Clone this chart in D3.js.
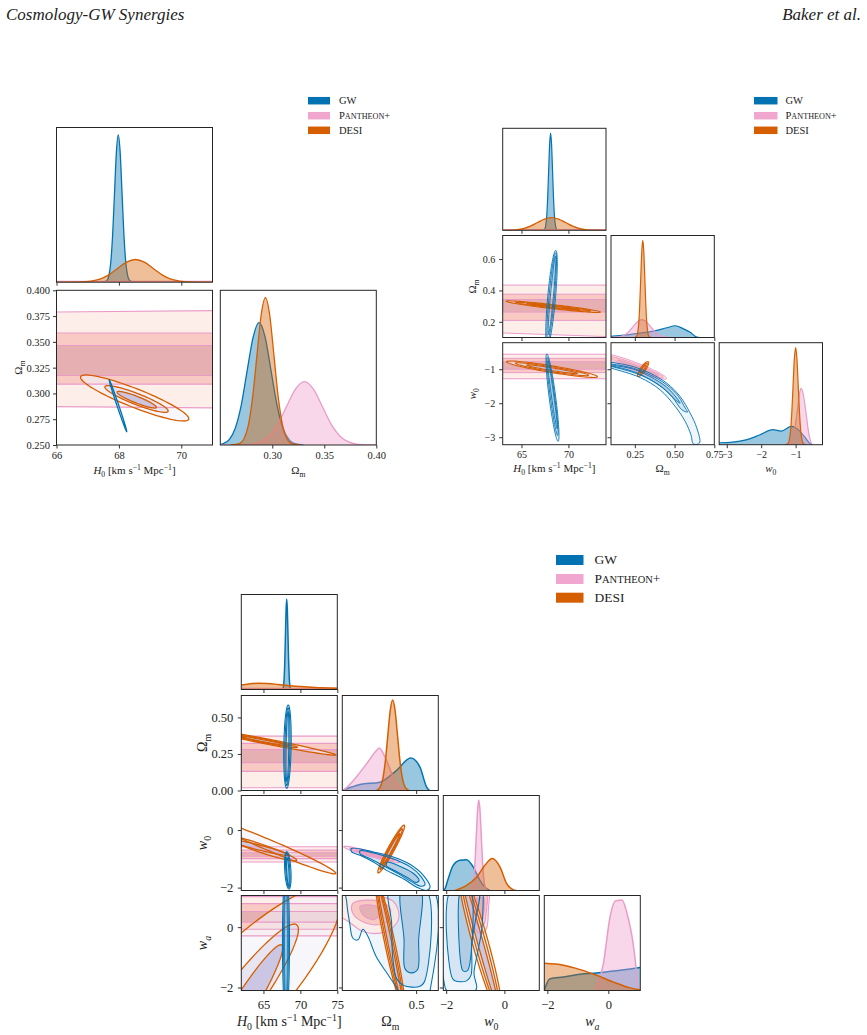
<!DOCTYPE html>
<html>
<head>
<meta charset="utf-8">
<script src="https://cdn.jsdelivr.net/npm/d3@7"></script>
<style>
  body { margin: 0; background: #fff; }
  svg text { font-family: "Liberation Serif", "Times New Roman", serif; fill: #222; }
</style>
</head>
<body>
<svg id="fig" width="867" height="1035"></svg>
<script>
// ---------- colours
var GW = '#0173b2', PAN = '#ea9cc9', DESI = '#d55e00';
var gwFill = ['#eaf2fa', '#cfe1f1', '#a9c6e0'];
var panFill = ['#fde8e1', '#f7bdb6', '#dfa7ae'];
var desiFill = ['#f2f0f7', '#dcdaec', '#b9b0d8'];

// ================= top-left corner (H0, Om) =================
var tlDomains = [[66, 71], [0.25, 0.40]];
var tlTicksX = [[66, 68, 70], [0.30, 0.35, 0.40]];
var tlTicksY = [null, [0.25, 0.275, 0.30, 0.325, 0.35, 0.375, 0.40]];

// 1D posteriors: [x, relative density]
var tl_H0_gw = [[67.5,0],[67.62,0.011],[67.68,0.044],[67.74,0.135],[67.80,0.325],[67.86,0.607],[67.92,0.883],[67.98,1],[68.04,0.883],[68.10,0.607],[68.16,0.325],[68.22,0.135],[68.28,0.044],[68.34,0.011],[68.46,0]];
var tl_H0_pan = [[66,0.006],[71,0.006]];
var tl_H0_desi = [[66,0],[66.82,0.0017],[67.105,0.0068],[67.39,0.0208],[67.675,0.05],[67.96,0.0934],[68.245,0.1359],[68.53,0.154],[68.815,0.1359],[69.1,0.0934],[69.385,0.05],[69.67,0.0208],[69.955,0.0068],[70.24,0.0017],[71,0]];
var tl_Om_gw = [[0.245,0],[0.2528,0.0092],[0.2586,0.0364],[0.2643,0.1123],[0.2701,0.2695],[0.2758,0.5034],[0.2816,0.7325],[0.2873,0.83],[0.2931,0.7325],[0.2988,0.5034],[0.3046,0.2695],[0.3103,0.1123],[0.3161,0.0364],[0.3218,0.0092],[0.33,0]];
var tl_Om_pan = [[0.25,0],[0.2793,0.0048],[0.2879,0.0189],[0.2965,0.0582],[0.3051,0.1396],[0.3137,0.2608],[0.3223,0.3795],[0.3309,0.43],[0.3395,0.3795],[0.3481,0.2608],[0.3567,0.1396],[0.3653,0.0582],[0.3739,0.0189],[0.3825,0.0048],[0.40,0]];
var tl_Om_desi = [[0.26,0],[0.2688,0.011],[0.2729,0.0439],[0.277,0.1353],[0.2811,0.3247],[0.2852,0.6065],[0.2893,0.8825],[0.2934,1],[0.2975,0.8825],[0.3016,0.6065],[0.3057,0.3247],[0.3098,0.1353],[0.3139,0.0439],[0.318,0.011],[0.327,0]];

// 2D contours, outer -> inner. ellipse = [cx, cy, ux, uy, vx, vy], otherwise a list of points
var tl_H0Om_pan = [
  [[65,0.2874],[72,0.2858],[72,0.3805],[65,0.3787]],
  [[65,0.309],[72,0.309],[72,0.3586],[65,0.3586]],
  [[65,0.3174],[72,0.3174],[72,0.3465],[65,0.3465]]
];
var tl_H0Om_desi = [[68.505,0.2956,1.735,-0.0201,0,0.0097],[68.565,0.2946,1.015,-0.0116,0,0.0057],[68.57,0.2939,0.63,-0.0073,0,0.0034]];
var tl_H0Om_gw = [[67.97,0.2881,0.28,-0.0251,0.03,0]];

// ================= top-right corner (H0, Om, w0) =================
var trDomains = [[63, 74], [0.1, 0.75], [-3.22, -0.22]];
var trTicksX = [[65, 70], [0.25, 0.5, 0.75], [-3, -2, -1]];
var trTicksY = [null, [0.2, 0.4, 0.6], [-3, -2, -1]];

var tr_H0_gw = [[67.3,0],[67.47,0.011],[67.575,0.044],[67.68,0.135],[67.785,0.325],[67.89,0.607],[67.995,0.883],[68.1,1],[68.205,0.883],[68.31,0.607],[68.415,0.325],[68.52,0.135],[68.625,0.044],[68.73,0.011],[68.9,0]];
var tr_H0_pan = [[63,0.006],[74,0.006]];
var tr_H0_desi = [[63,0.0005],[63.7,0.0015],[64.45,0.0058],[65.2,0.0177],[65.95,0.0425],[66.7,0.0795],[67.45,0.1156],[68.2,0.131],[68.95,0.1156],[69.7,0.0795],[70.45,0.0425],[71.2,0.0177],[71.95,0.0058],[72.7,0.0015],[74,0.0002]];
var tr_Om_gw = [[0.1,0.011],[0.199,0.027],[0.283,0.045],[0.367,0.065],[0.451,0.10],[0.504,0.121],[0.556,0.089],[0.598,0.053],[0.64,0.004],[0.66,0]];
var tr_Om_pan = [[0.1,0.002],[0.129,0.004],[0.1565,0.0081],[0.184,0.0249],[0.2115,0.0597],[0.239,0.1116],[0.2665,0.1624],[0.294,0.184],[0.3215,0.1624],[0.349,0.1116],[0.3765,0.0597],[0.404,0.0249],[0.4315,0.0081],[0.459,0.002],[0.5,0]];
var tr_Om_desi = [[0.25,0],[0.261,0.011],[0.2675,0.044],[0.274,0.135],[0.2805,0.325],[0.287,0.607],[0.2935,0.883],[0.30,1],[0.3065,0.883],[0.313,0.607],[0.3195,0.325],[0.326,0.135],[0.3325,0.044],[0.339,0.011],[0.35,0]];
var tr_w0_gw = [[-3.22,0.02],[-2.83,0.027],[-2.44,0.05],[-2.05,0.10],[-1.66,0.155],[-1.42,0.14],[-1.12,0.188],[-0.88,0.14],[-0.64,0.035],[-0.55,0]];
var tr_w0_pan = [[-1.3,0],[-1.15,0.03],[-1.05,0.12],[-0.95,0.35],[-0.88,0.54],[-0.84,0.58],[-0.78,0.52],[-0.70,0.33],[-0.62,0.12],[-0.55,0.02],[-0.5,0]];
var tr_w0_desi = [[-1.3,0],[-1.225,0.011],[-1.1875,0.044],[-1.15,0.135],[-1.1125,0.325],[-1.075,0.607],[-1.0375,0.883],[-1.0,1],[-0.9625,0.883],[-0.925,0.607],[-0.8875,0.325],[-0.85,0.135],[-0.8125,0.044],[-0.775,0.011],[-0.7,0]];

var tr_H0Om_pan = [
  [[62,0.131],[75,0.104],[75,0.434],[62,0.434]],
  [[62,0.209],[75,0.209],[75,0.376],[62,0.376]],
  [[62,0.262],[75,0.262],[75,0.342],[62,0.342]]
];
var tr_H0Om_desi = [[68.375,0.2965,5.025,-0.0345,0,0.013],[68.375,0.2965,4.0,-0.0275,0,0.008],[68.375,0.2965,2.8,-0.0193,0,0.004]];
var tr_H0Om_gw = [[68.2,0.35,0.45,0.305,0.42,0],[68.22,0.36,0.42,0.28,0.29,0],[68.25,0.37,0.38,0.25,0.16,0]];

var tr_H0w0_pan = [
  [[62,-1.28],[75,-1.28],[75,-0.56],[62,-0.56]],
  [[62,-1.10],[75,-1.10],[75,-0.68],[62,-0.68]],
  [[62,-1.0],[75,-1.0],[75,-0.78],[62,-0.78]]
];
var tr_H0w0_desi = [[68.25,-1.0,4.85,-0.22,0,0.1],[68.25,-1.0,3.9,-0.177,0,0.07],[68.25,-1.0,2.7,-0.122,0,0.04]];
var tr_H0w0_gw = [[68.3,-1.835,-0.6,1.285,0.35,0],[68.3,-1.8,-0.55,1.15,0.24,0],[68.3,-1.75,-0.5,1.0,0.13,0]];

var tr_Omw0_pan = [[0.25,-0.92,0.2,-0.35,0,0.13],[0.26,-0.94,0.17,-0.3,0,0.085],[0.27,-0.96,0.13,-0.23,0,0.045]];
var tr_Omw0_gw = [
  [[0.05,-0.75],[0.104,-0.796],[0.241,-0.923],[0.346,-1.118],[0.451,-1.411],[0.535,-1.803],[0.598,-2.291],[0.640,-2.731],[0.657,-3.171],[0.619,-3.20],[0.603,-2.927],[0.567,-2.536],[0.504,-2.096],[0.409,-1.607],[0.283,-1.245],[0.104,-0.972],[0.05,-0.9]],
  [[0.05,-0.8],[0.104,-0.845],[0.241,-0.972],[0.346,-1.167],[0.451,-1.46],[0.525,-1.803],[0.567,-2.145],[0.582,-2.26],[0.546,-2.193],[0.483,-1.803],[0.399,-1.46],[0.283,-1.167],[0.104,-0.923],[0.05,-0.88]],
  [[0.05,-0.83],[0.104,-0.874],[0.241,-1.0],[0.346,-1.216],[0.451,-1.53],[0.514,-1.85],[0.535,-2.0],[0.504,-1.9],[0.43,-1.56],[0.325,-1.245],[0.241,-1.069],[0.104,-0.903],[0.05,-0.86]]
];
var tr_Omw0_desi = [[0.3015,-0.996,0.0295,0.22,0.02,0],[0.3015,-0.996,0.024,0.176,0.013,0],[0.3015,-0.996,0.016,0.12,0.007,0]];

// ================= bottom corner (H0, Om, w0, wa) =================
var bDomains = [[62, 75], [0, 0.65], [-2.1, 1.2], [-2.1, 1.05]];
var bTicksX = [[65, 70, 75], [0.5], [-2, 0], [-2, 0]];
var bTicksY = [null, [0, 0.25, 0.5], [-2, 0], [-2, 0]];

var b_H0_gw = [[67.5,0],[67.64,0.011],[67.725,0.044],[67.81,0.135],[67.895,0.325],[67.98,0.607],[68.065,0.883],[68.15,1],[68.235,0.883],[68.32,0.607],[68.405,0.325],[68.49,0.135],[68.575,0.044],[68.66,0.011],[68.8,0]];
var b_H0_pan = [[62,0.01],[75,0.01]];
var b_H0_desi = [[62,0.051],[63,0.062],[64.3,0.069],[65.5,0.066],[67,0.055],[68.3,0.043],[70,0.032],[72,0.022],[75,0.015]];
var b_Om_gw = [[0.0,0.004],[0.007,0.007],[0.12,0.067],[0.255,0.092],[0.368,0.223],[0.463,0.36],[0.526,0.259],[0.571,0.037],[0.59,0]];
var b_Om_pan = [[0.0,0.0],[0.007,0.005],[0.075,0.111],[0.165,0.297],[0.233,0.445],[0.25,0.471],[0.289,0.371],[0.345,0.148],[0.40,0.019],[0.43,0]];
var b_Om_desi = [[0.23,0],[0.242,0.011],[0.2585,0.044],[0.275,0.135],[0.2915,0.325],[0.308,0.607],[0.3245,0.883],[0.341,1],[0.3575,0.883],[0.374,0.607],[0.3905,0.325],[0.407,0.135],[0.4235,0.044],[0.44,0.011],[0.455,0]];
var b_w0_gw = [[-2.1,0],[-2.04,0.02],[-1.95,0.111],[-1.76,0.278],[-1.53,0.334],[-1.30,0.341],[-1.07,0.259],[-0.84,0.111],[-0.61,0.019],[-0.5,0]];
var b_w0_pan = [[-1.2,0],[-1.135,0.011],[-1.0925,0.044],[-1.05,0.135],[-1.0075,0.325],[-0.965,0.607],[-0.9225,0.883],[-0.88,1],[-0.8375,0.883],[-0.795,0.607],[-0.7525,0.325],[-0.71,0.135],[-0.6675,0.044],[-0.625,0.011],[-0.56,0]];
var b_w0_desi = [[-1.7,0],[-1.64,0.007],[-1.30,0.056],[-0.95,0.148],[-0.67,0.278],[-0.42,0.353],[-0.15,0.259],[0.08,0.075],[0.31,0.007],[0.4,0]];
var b_wa_gw = [[-2.1,0],[-2.05,0.05],[-1.91,0.13],[-1.47,0.149],[-0.92,0.179],[-0.38,0.193],[0.17,0.216],[0.72,0.238],[1.05,0.253]];
var b_wa_pan = [[-0.4,0],[-0.16,0.298],[0.06,0.82],[0.23,0.99],[0.45,1.0],[0.61,0.857],[0.83,0.483],[0.99,0]];
var b_wa_desi = [[-2.1,0.30],[-1.47,0.279],[-0.92,0.231],[-0.38,0.168],[0.17,0.093],[0.72,0.029],[1.05,0.007]];

var b_H0Om_pan = [
  [[61,0.019],[76,0.019],[76,0.372],[61,0.372]],
  [[61,0.131],[76,0.131],[76,0.322],[61,0.322]],
  [[61,0.191],[76,0.191],[76,0.28],[61,0.28]]
];
var b_H0Om_desi = [[66,0.33,8.8,-0.087,0,0.018],[65,0.34,4.6,-0.045,0,0.012],[65,0.34,3.5,-0.034,0,0.007]];
var b_H0Om_gw = [[68.25,0.30,0.1,0.285,0.5,0],[68.25,0.30,0.09,0.265,0.34,0],[68.25,0.30,0.08,0.24,0.18,0]];

var b_H0w0_pan = [
  [[61,-1.11],[76,-1.11],[76,-0.58],[61,-0.58]],
  [[61,-0.99],[76,-0.99],[76,-0.70],[61,-0.70]],
  [[61,-0.91],[76,-0.91],[76,-0.79],[61,-0.79]]
];
var b_H0w0_desi = [[66,-0.55,8.8,-0.95,0,0.2],[64.5,-0.62,5.0,-0.43,0,0.15],[64.3,-0.6,4.2,-0.27,0,0.09]];
var b_H0w0_gw = [[68.3,-1.4,0.15,-0.65,0.42,0],[68.3,-1.4,0.14,-0.6,0.28,0],[68.3,-1.45,0.12,-0.5,0.15,0]];

var b_Omw0_pan = [[0.2,-0.845,0.19,-0.265,0,0.09],[0.2,-0.845,0.15,-0.21,0,0.06],[0.2,-0.845,0.11,-0.155,0,0.03]];
var b_Omw0_gw = [
  [[0.063,-0.641],[0.21,-0.759],[0.345,-0.934],[0.458,-1.19],[0.549,-1.575],[0.594,-1.984],[0.571,-2.1],[0.504,-1.984],[0.413,-1.69],[0.30,-1.40],[0.21,-1.11],[0.12,-0.875],[0.063,-0.759]],
  [[0.12,-0.72],[0.25,-0.85],[0.36,-1.03],[0.46,-1.28],[0.53,-1.6],[0.56,-1.9],[0.53,-1.95],[0.47,-1.8],[0.39,-1.55],[0.30,-1.30],[0.2,-1.02],[0.12,-0.82]],
  [[0.30,-1.12],[0.40,-1.28],[0.48,-1.5],[0.52,-1.75],[0.5,-1.82],[0.44,-1.65],[0.36,-1.42],[0.30,-1.25]]
];
var b_Omw0_desi = [[0.331,-0.66,0.087,0.83,0.025,0],[0.331,-0.66,0.074,0.705,0.017,0],[0.331,-0.66,0.057,0.54,0.01,0]];

var b_H0wa_pan = [
  [[61,-0.29],[76,-0.29],[76,1.01],[61,1.01]],
  [[61,-0.07],[76,-0.07],[76,0.78],[61,0.78]],
  [[61,0.17],[76,0.17],[76,0.52],[61,0.52]]
];
var b_H0wa_desi = [[59.03,-2.86,15.93,4.11,4.25,-1.009],[60.56,-2.87,8.94,2.95,2.06,-0.382],[61.05,-3.156,6.42,2.564,1.347,-0.207]];
var b_H0wa_gw = [[68.05,-0.5,0,2.4,0.48,0],[68.05,-0.5,0,2.35,0.32,0],[68.05,-0.5,0,2.3,0.17,0]];

var b_Omwa_pan = [
  [[-0.05,0.95],[0.052,1.08],[0.21,1.06],[0.345,0.86],[0.384,0.36],[0.345,0.0],[0.255,-0.2],[0.14,-0.145],[0.041,0.19],[-0.05,0.5]],
  [[0.075,0.80],[0.255,0.86],[0.327,0.58],[0.30,0.19],[0.21,0.08],[0.098,0.30],[0.063,0.58]],
  [[0.12,0.69],[0.233,0.69],[0.266,0.47],[0.21,0.25],[0.14,0.41]]
];
var b_Omwa_gw = [
  [[0.03,1.3],[0.03,0.83],[0.05,0.135],[0.072,-0.368],[0.106,-0.42],[0.14,-0.066],[0.174,-0.313],[0.23,-0.98],[0.32,-1.65],[0.377,-2.1],[0.39,-2.3],[0.58,-2.3],[0.594,-2.1],[0.605,1.3]],
  [[0.323,1.3],[0.334,0.135],[0.341,-0.98],[0.368,-1.705],[0.413,-1.93],[0.526,-1.96],[0.56,-1.76],[0.562,1.3]],
  [[0.406,1.3],[0.418,-0.42],[0.424,-1.37],[0.458,-1.51],[0.508,-1.42],[0.517,-0.42],[0.526,1.3]]
];
var b_Omwa_desi = [[0.325,-0.6,-0.095,2.2,0.035,0],[0.325,-0.6,-0.09,2.1,0.024,0],[0.325,-0.6,-0.085,2.0,0.013,0]];

var b_w0wa_pan = [
  [[-1.07,1.2],[-0.56,1.2],[-0.55,0.6],[-0.62,-0.05],[-0.8,-0.22],[-1.0,-0.05],[-1.08,0.5]],
  [[-1.0,1.1],[-0.62,1.1],[-0.62,0.55],[-0.7,0.1],[-0.82,0.0],[-0.95,0.1],[-1.0,0.55]],
  [[-0.95,0.95],[-0.7,0.95],[-0.7,0.55],[-0.78,0.3],[-0.9,0.35],[-0.95,0.6]]
];
var b_w0wa_gw = [
  [[-2.04,1.3],[-2.04,-1.99],[-1.98,-2.1],[-1.0,-2.1],[-0.95,-1.99],[-1.045,-1.54],[-0.95,-0.98],[-0.78,-0.09],[-0.725,1.03],[-0.725,1.3]],
  [[-1.81,1.3],[-1.81,-1.65],[-1.70,-1.78],[-1.30,-1.78],[-1.15,-1.6],[-1.12,-0.5],[-1.0,0.2],[-0.9,1.3]],
  [[-1.47,1.3],[-1.47,-1.35],[-1.42,-1.45],[-1.28,-1.45],[-1.22,-1.35],[-1.18,1.3]]
];
var b_w0wa_desi = [[-0.83,-0.5,-0.7,2.45,0.28,0],[-0.83,-0.5,-0.665,2.33,0.19,0],[-0.83,-0.5,-0.63,2.2,0.1,0]];

// ---------- labels
var labH0 = [['H','i'],['0','sub'],[' [km s',''],['\u22121','sup'],[' Mpc',''],['\u22121','sup'],[']','']];
var labOm = [['\u03A9',''],['m','sub']];
var labW0 = [['w','i'],['0','sub']];
var labWa = [['w','i'],['a','isub']];

// ---------- drawing helpers
var svg = d3.select('#fig');
var defs = svg.append('defs');
var clipId = 0;

function shapePoints(s) {
  if (typeof s[0] === 'number') {
    var pts = [];
    for (var k = 0; k < 90; k++) {
      var t = k / 90 * 2 * Math.PI;
      pts.push([s[0] + s[2]*Math.cos(t) + s[4]*Math.sin(t), s[1] + s[3]*Math.cos(t) + s[5]*Math.sin(t)]);
    }
    return pts;
  }
  return s;
}

function shapePath(xs, ys, s) {
  var pts = shapePoints(s);
  var curve = (typeof s[0] === 'number' || pts.length === 4) ? d3.curveLinearClosed : d3.curveCatmullRomClosed.alpha(0.5);
  return d3.line().x(d => xs(d[0])).y(d => ys(d[1])).curve(curve)(pts);
}

function fillSet(g, xs, ys, levels, fills, op) {
  levels.forEach(function(s, k) {
    g.append('path').attr('d', shapePath(xs, ys, s)).attr('fill', fills[k]).attr('fill-opacity', op);
  });
}
function strokeSet(g, xs, ys, levels, stroke, sw) {
  levels.forEach(function(s) {
    g.append('path').attr('d', shapePath(xs, ys, s)).attr('fill', 'none')
      .attr('stroke', stroke).attr('stroke-width', sw);
  });
}

function draw1D(g, xs, ys, curves, sw) {
  curves.forEach(function(c) {
    var data = c[0], col = c[1];
    var area = d3.area().x(d => xs(d[0])).y0(ys(0)).y1(d => ys(d[1])).curve(d3.curveMonotoneX);
    var line = d3.line().x(d => xs(d[0])).y(d => ys(d[1])).curve(d3.curveMonotoneX);
    g.append('path').attr('d', area(data)).attr('fill', col).attr('fill-opacity', 0.4);
    g.append('path').attr('d', line(data)).attr('fill', 'none').attr('stroke', col).attr('stroke-width', sw);
  });
}

function richText(g, parts, fs) {
  var t = g.append('text').attr('font-size', fs).attr('text-anchor', 'middle');
  var shift = 0;
  parts.forEach(function(p) {
    var ts = t.append('tspan').text(p[0]);
    var target = 0;
    if (p[1] === 'sub' || p[1] === 'isub') { target = 0.28 * fs; ts.attr('font-size', fs * 0.7); }
    if (p[1] === 'sup') { target = -0.38 * fs; ts.attr('font-size', fs * 0.7); }
    if (p[1] === 'i' || p[1] === 'isub') ts.attr('font-style', 'italic');
    ts.attr('dy', target - shift);
    shift = target;
  });
  return t;
}

function corner(cfg) {
  var n = cfg.domains.length;
  var root = svg.append('g');
  for (var i = 0; i < n; i++) {
    for (var j = 0; j <= i; j++) {
      var px = cfg.x0[j], py = cfg.y0[i];
      var xs = d3.scaleLinear().domain(cfg.domains[j]).range([px, px + cfg.w]);
      var ys = (i === j)
        ? d3.scaleLinear().domain([0, 1.05]).range([py + cfg.h, py])
        : d3.scaleLinear().domain(cfg.domains[i]).range([py + cfg.h, py]);
      var id = 'clip' + (clipId++);
      defs.append('clipPath').attr('id', id).append('rect')
        .attr('x', px).attr('y', py).attr('width', cfg.w).attr('height', cfg.h);
      var g = root.append('g').attr('clip-path', 'url(#' + id + ')');
      if (i === j) {
        var d1 = cfg.d1[i];
        draw1D(g, xs, ys, [[d1.gw, GW], [d1.pan, PAN], [d1.desi, DESI]], cfg.sw1);
      } else {
        var d2 = cfg.d2[j + '' + i];
        fillSet(g, xs, ys, d2.gw, gwFill, 0.8);
        fillSet(g, xs, ys, d2.pan, panFill, 0.75);
        fillSet(g, xs, ys, d2.desi, desiFill, 0.6);
        strokeSet(g, xs, ys, d2.pan, PAN, cfg.sw2 * 0.9);
        strokeSet(g, xs, ys, d2.desi, DESI, cfg.sw2);
        strokeSet(g, xs, ys, d2.gw, GW, cfg.swGw);
      }
      // x axis
      var last = (i === n - 1);
      var ax = d3.axisBottom(xs).tickValues(cfg.ticksX[j]).tickSize(3.5).tickPadding(cfg.pad)
        .tickFormat(last ? cfg.fmtX[j] : '');
      root.append('g').attr('transform', 'translate(0,' + (py + cfg.h) + ')').call(ax)
        .call(a => a.select('.domain').remove())
        .call(a => a.selectAll('text').attr('font-size', cfg.fs).attr('font-family', null))
        .call(a => a.selectAll('line').attr('stroke', '#333'));
      if (i !== j) {
        var ay = d3.axisLeft(ys).tickValues(cfg.ticksY[i]).tickSize(3.5).tickPadding(cfg.padY)
          .tickFormat(j === 0 ? cfg.fmtY[i] : '');
        root.append('g').attr('transform', 'translate(' + px + ',0)').call(ay)
          .call(a => a.select('.domain').remove())
          .call(a => a.selectAll('text').attr('font-size', cfg.fs).attr('font-family', null))
          .call(a => a.selectAll('line').attr('stroke', '#333'));
      }
      root.append('rect').attr('x', px).attr('y', py).attr('width', cfg.w).attr('height', cfg.h)
        .attr('fill', 'none').attr('stroke', '#262626').attr('stroke-width', 1);
    }
  }
  // axis labels
  for (var k = 0; k < n; k++) {
    richText(root.append('g').attr('transform', 'translate(' + (cfg.x0[k] + cfg.w / 2) + ',' + cfg.xlabY + ')'), cfg.labels[k], cfg.lfs);
    if (k > 0) {
      richText(root.append('g').attr('transform', 'translate(' + cfg.ylabX + ',' + (cfg.y0[k] + cfg.h / 2) + ') rotate(-90)'), cfg.labels[k], cfg.lfs);
    }
  }
  // legend
  var cols = [GW, '#f0a6cf', DESI];
  var names = [[['GW', 1]], [['P', 1], ['ANTHEON', 0.78], ['+', 1]], [['DESI', 1]]];
  names.forEach(function(nm, k) {
    var cy = cfg.legY[k];
    root.append('rect').attr('x', cfg.legX).attr('y', cy - cfg.legH / 2)
      .attr('width', cfg.legW).attr('height', cfg.legH).attr('fill', cols[k]);
    var t = root.append('text').attr('x', cfg.legX + cfg.legW + cfg.legGap).attr('y', cy + cfg.legFs * 0.33)
      .attr('font-size', cfg.legFs);
    nm.forEach(function(p) { t.append('tspan').attr('font-size', cfg.legFs * p[1]).text(p[0]); });
  });
}

var f0 = d3.format('d'), f1 = d3.format('.1f'), f2 = d3.format('.2f'), f3 = d3.format('.3f');

corner({
  domains: tlDomains, ticksX: tlTicksX, ticksY: tlTicksY,
  fmtX: [f0, f2], fmtY: [null, f3],
  x0: [56.5, 220.3], y0: [127.5, 290.3], w: 156, h: 154.7,
  d1: [{gw: tl_H0_gw, pan: tl_H0_pan, desi: tl_H0_desi}, {gw: tl_Om_gw, pan: tl_Om_pan, desi: tl_Om_desi}],
  d2: {'01': {pan: tl_H0Om_pan, desi: tl_H0Om_desi, gw: tl_H0Om_gw}},
  labels: [labH0, labOm], fs: 10.5, lfs: 11, pad: 3, padY: 3, sw1: 1.3, sw2: 1.3, swGw: 1.3,
  xlabY: 474, ylabX: 22,
  legX: 308, legY: [100.7, 115.7, 130.3], legW: 22, legH: 7.5, legGap: 9, legFs: 10.5
});

corner({
  domains: trDomains, ticksX: trTicksX, ticksY: trTicksY,
  fmtX: [f0, f2, f0], fmtY: [null, f1, f0],
  x0: [502.7, 611, 719.2], y0: [128.3, 235.5, 342.7], w: 103.3, h: 102,
  d1: [{gw: tr_H0_gw, pan: tr_H0_pan, desi: tr_H0_desi}, {gw: tr_Om_gw, pan: tr_Om_pan, desi: tr_Om_desi}, {gw: tr_w0_gw, pan: tr_w0_pan, desi: tr_w0_desi}],
  d2: {
    '01': {pan: tr_H0Om_pan, desi: tr_H0Om_desi, gw: tr_H0Om_gw},
    '02': {pan: tr_H0w0_pan, desi: tr_H0w0_desi, gw: tr_H0w0_gw},
    '12': {pan: tr_Omw0_pan, desi: tr_Omw0_desi, gw: tr_Omw0_gw}
  },
  labels: [labH0, labOm, labW0], fs: 10, lfs: 11, pad: 3, padY: 4, sw1: 1.2, sw2: 1.1, swGw: 0.9,
  xlabY: 472, ylabX: 476,
  legX: 754, legY: [100.7, 115.7, 130.3], legW: 23.5, legH: 7.5, legGap: 8, legFs: 10.5
});

corner({
  domains: bDomains, ticksX: bTicksX, ticksY: bTicksY,
  fmtX: [f0, f1, f0, f0], fmtY: [null, f2, f0, f0],
  x0: [241.3, 342.3, 443.3, 544.3], y0: [594.5, 695.5, 795.5, 895.5], w: 96, h: 95,
  d1: [{gw: b_H0_gw, pan: b_H0_pan, desi: b_H0_desi}, {gw: b_Om_gw, pan: b_Om_pan, desi: b_Om_desi},
       {gw: b_w0_gw, pan: b_w0_pan, desi: b_w0_desi}, {gw: b_wa_gw, pan: b_wa_pan, desi: b_wa_desi}],
  d2: {
    '01': {pan: b_H0Om_pan, desi: b_H0Om_desi, gw: b_H0Om_gw},
    '02': {pan: b_H0w0_pan, desi: b_H0w0_desi, gw: b_H0w0_gw},
    '12': {pan: b_Omw0_pan, desi: b_Omw0_desi, gw: b_Omw0_gw},
    '03': {pan: b_H0wa_pan, desi: b_H0wa_desi, gw: b_H0wa_gw},
    '13': {pan: b_Omwa_pan, desi: b_Omwa_desi, gw: b_Omwa_gw},
    '23': {pan: b_w0wa_pan, desi: b_w0wa_desi, gw: b_w0wa_gw}
  },
  labels: [labH0, labOm, labW0, labWa], fs: 12.5, lfs: 14, pad: 6, padY: 4.5, sw1: 1.5, sw2: 1.3, swGw: 1.05,
  xlabY: 1026, ylabX: 207,
  legX: 556, legY: [560, 579, 597.7], legW: 27.5, legH: 10, legGap: 11, legFs: 13.5
});

// ---------- running header
svg.append('text').attr('x', 6).attr('y', 20).attr('font-size', 17).attr('font-style', 'italic')
  .text('Cosmology-GW Synergies');
svg.append('text').attr('x', 861).attr('y', 20).attr('font-size', 17).attr('font-style', 'italic')
  .attr('text-anchor', 'end').text('Baker et al.');
</script>
</body>
</html>
